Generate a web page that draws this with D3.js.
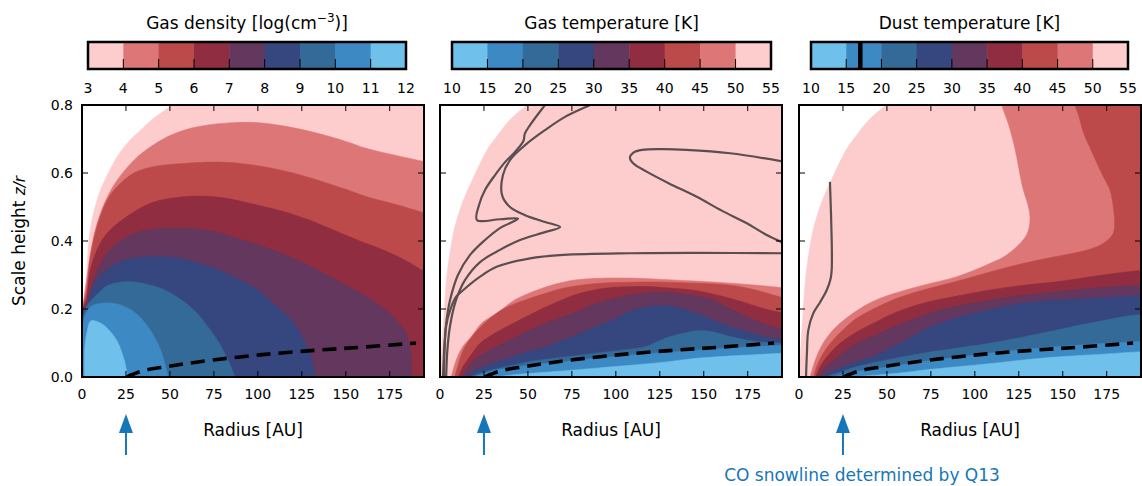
<!DOCTYPE html>
<html>
<head>
<meta charset="utf-8">
<script src="https://cdn.jsdelivr.net/npm/d3@7/dist/d3.min.js"></script>
<style>
  body { margin: 0; background: #fff; }
  text { font-family: "DejaVu Sans", sans-serif; }
</style>
</head>
<body>
<svg id="chart" width="1142" height="486"></svg>
<script>
// ---- data ----
const bandColors = ["#fdcdce", "#dd7676", "#bd4a4a", "#912d40", "#63375e", "#36467f", "#346a98", "#3d89c4", "#6fc0ea"];
const densLevels = [3, 4, 5, 6, 7, 8, 9, 10, 11, 12];
const tempLevels = [10, 15, 20, 25, 30, 35, 40, 45, 50, 55];
const xTicks = [0, 25, 50, 75, 100, 125, 150, 175];
const yTicks = [0, 0.2, 0.4, 0.6, 0.8];
const snowlineR = 25;
const dustLineLevel = 17;

// density: region n >= level, [r (AU), z/r]
const dens3 = [[0,0],[0.5,0.2],[2,0.256],[3,0.33],[3.9,0.403],[6,0.47],[10.5,0.55],[15,0.6],[20,0.648],[27,0.695],[33.3,0.726],[40,0.758],[48.5,0.79],[53,0.81],[60,0.86],[196,0.86]];
const dens4 = [[0,0],[0.5,0.2],[2.9,0.295],[5,0.37],[8.6,0.452],[14,0.525],[20,0.579],[30,0.64],[39,0.677],[48,0.705],[58,0.726],[70,0.74],[86,0.748],[100,0.748],[115,0.738],[134,0.717],[150,0.693],[162,0.672],[180,0.65],[196,0.632]];
const dens5 = [[0,0],[0.5,0.2],[2.5,0.25],[5,0.36],[9,0.45],[14.3,0.52],[20,0.56],[29.5,0.6],[40,0.618],[58,0.628],[77,0.632],[90,0.628],[105,0.617],[120,0.6],[134,0.579],[150,0.552],[162,0.53],[180,0.505],[196,0.48]];
const dens6 = [[0,0],[0.5,0.2],[2.5,0.23],[5,0.32],[10,0.39],[16,0.432],[25,0.47],[39,0.511],[50,0.525],[64,0.532],[75,0.53],[86,0.522],[100,0.505],[115,0.486],[130,0.46],[143,0.432],[158,0.4],[172,0.372],[185,0.34],[196,0.305]];
const dens7 = [[0,0],[0.5,0.2],[2.5,0.21],[5,0.26],[10,0.33],[16,0.375],[25,0.41],[33,0.427],[45,0.437],[55,0.438],[65,0.435],[77,0.425],[90,0.405],[105,0.38],[120,0.35],[134,0.315],[150,0.27],[162,0.236],[172,0.2],[180,0.16],[185,0.12],[187,0.07],[187.5,0]];
const dens8 = [[0,0],[0.5,0.19],[2,0.2],[5,0.25],[10,0.295],[20,0.335],[30,0.35],[40,0.354],[50,0.352],[60,0.344],[75,0.32],[86,0.295],[100,0.255],[110,0.21],[120,0.16],[126,0.11],[130,0.06],[132.5,0]];
const dens9 = [[0,0],[0.5,0.17],[3,0.21],[8,0.24],[15,0.27],[25,0.28],[35,0.275],[45,0.26],[55,0.232],[65,0.19],[72,0.145],[78,0.1],[83,0.05],[87,0]];
const dens10 = [[0,0],[0.5,0.15],[2.5,0.19],[6,0.21],[12,0.217],[20,0.215],[28,0.197],[35,0.165],[42,0.11],[46,0.06],[49,0]];
const dens11 = [[1.5,0],[1.5,0.08],[2.8,0.13],[5,0.165],[10,0.16],[15,0.14],[20,0.105],[24,0.05],[26,0]];

// outer edge of the model grid (temperature panels)
const gridEdge = [[0,0],[0.5,0.05],[1.2,0.1],[1.9,0.158],[2.8,0.23],[3.8,0.295],[5.5,0.36],[7.6,0.423],[10,0.47],[13.3,0.52],[18,0.575],[22.8,0.628],[27,0.67],[32.2,0.707],[37,0.74],[41.7,0.766],[46,0.785],[49.3,0.8],[52,0.82],[55,0.86],[196,0.86]];

// gas temperature: region T < level
const gasT50 = [[6.5,0],[8,0.03],[10,0.06],[13,0.09],[18,0.12],[24,0.16],[33,0.19],[42,0.225],[50,0.245],[61,0.266],[74,0.283],[85,0.289],[99,0.291],[115,0.29],[127,0.287],[145,0.282],[165,0.276],[180,0.27],[196,0.262]];
const gasT45 = [[8.5,0],[10,0.03],[13.3,0.08],[20,0.13],[32,0.187],[40,0.21],[51,0.231],[60,0.246],[70,0.261],[89,0.275],[110,0.279],[127,0.279],[145,0.276],[165,0.27],[180,0.255],[196,0.231]];
const gasT40 = [[10.5,0],[13,0.03],[17,0.06],[22.8,0.099],[30,0.125],[41.7,0.158],[50,0.18],[60.7,0.207],[70,0.228],[79.6,0.246],[90,0.258],[100,0.264],[117,0.266],[130,0.262],[146,0.254],[160,0.238],[174.5,0.217],[185,0.2],[196,0.187]];
const gasT35 = [[12.5,0],[16,0.03],[22,0.06],[32,0.089],[42,0.115],[51,0.138],[60,0.158],[70,0.177],[80,0.197],[89,0.217],[100,0.232],[108,0.241],[118,0.248],[127,0.25],[140,0.243],[155.5,0.226],[165,0.2],[174.5,0.177],[185,0.155],[196,0.138]];
const gasT30 = [[14.5,0],[20,0.02],[30,0.04],[41.7,0.06],[50,0.074],[60.7,0.089],[70,0.108],[79.6,0.128],[90,0.15],[98.6,0.168],[106,0.188],[112,0.2],[120,0.207],[127,0.21],[136,0.203],[146,0.187],[155,0.168],[165,0.148],[175,0.133],[184,0.119],[196,0.109]];
const gasT25 = [[17,0],[25,0.015],[35,0.027],[51,0.045],[70,0.058],[89,0.07],[105,0.08],[117.5,0.09],[124,0.105],[131,0.119],[140,0.13],[146,0.136],[155,0.133],[165,0.119],[175,0.108],[184,0.102],[196,0.099]];
const gasT20 = [[19,0],[25,0.01],[32,0.02],[50,0.034],[70,0.045],[89,0.055],[110,0.065],[130,0.073],[146,0.079],[170,0.087],[196,0.094]];
const gasT15 = [[32,0],[45,0.008],[60,0.014],[75,0.02],[89,0.026],[110,0.035],[130,0.045],[146,0.055],[170,0.063],[196,0.07]];

// gas temperature contour lines
const gasLineFlat = [[2.2,0],[2.6,0.08],[3.5,0.15],[6,0.2],[9,0.235],[13.3,0.256],[22.8,0.295],[32.2,0.324],[51.2,0.349],[70.2,0.359],[108,0.364],[146,0.365],[196,0.364]];
const gasLineLoop = [[196,0.633],[165,0.658],[140,0.668],[127,0.67],[115,0.668],[110,0.66],[108,0.645],[110,0.628],[117.5,0.604],[130,0.57],[146,0.53],[160,0.49],[174.5,0.452],[185,0.42],[196,0.393]];
const gasLineInner = [[1.7,0],[2.6,0.1],[3.8,0.17],[5.7,0.226],[10.2,0.3],[17.1,0.359],[25.6,0.403],[34.1,0.438],[44.4,0.466],[34.1,0.464],[21,0.462],[22.2,0.506],[25.6,0.55],[31.3,0.594],[37,0.632],[42.7,0.662],[47.5,0.695],[48.2,0.715],[51.2,0.741],[59.7,0.8],[62.6,0.82]];
const gasLineOuter = [[3.5,0],[4.2,0.08],[5.7,0.15],[9.1,0.226],[14.2,0.285],[22.8,0.338],[34.1,0.374],[45.5,0.403],[59.7,0.426],[68.3,0.441],[59.7,0.456],[48.4,0.476],[39.8,0.5],[35.3,0.535],[35.8,0.594],[39.8,0.638],[48.4,0.682],[59.7,0.726],[71.1,0.765],[85.3,0.8],[91,0.815]];

// dust temperature: region T < level
const dustT50 = [[6.4,0],[8,0.03],[10,0.06],[13.8,0.1],[18,0.13],[23.3,0.158],[32.8,0.195],[42,0.222],[51.8,0.242],[70.7,0.27],[89.7,0.295],[108.6,0.334],[117,0.355],[123.8,0.383],[128.5,0.41],[130.5,0.432],[131.4,0.471],[130,0.51],[127.6,0.55],[125.5,0.6],[123.8,0.648],[121.5,0.7],[119,0.746],[115.3,0.8],[113,0.86]];
const dustT45 = [[8.4,0],[10,0.03],[13.8,0.07],[18,0.1],[23.3,0.13],[32,0.17],[42.3,0.2],[55,0.23],[70.7,0.256],[85,0.275],[99.2,0.295],[113,0.315],[127.6,0.334],[142,0.35],[156,0.364],[165,0.375],[173,0.393],[178.5,0.42],[179.5,0.45],[179,0.49],[176.9,0.55],[173,0.59],[169.3,0.631],[165,0.68],[161.7,0.72],[159,0.77],[157,0.8],[156,0.86]];
const dustT40 = [[9.5,0],[12,0.03],[16,0.06],[23.3,0.099],[32,0.13],[42.3,0.158],[55,0.19],[70.7,0.217],[90,0.238],[108.6,0.256],[128,0.27],[146.6,0.28],[170,0.298],[196,0.315]];
const dustT35 = [[11,0],[14,0.025],[20,0.05],[26,0.075],[32.8,0.099],[42,0.12],[51.8,0.143],[65,0.17],[80,0.197],[95,0.213],[108.6,0.226],[128,0.24],[146.6,0.251],[170,0.262],[196,0.27]];
const dustT30 = [[13,0],[18,0.015],[25,0.03],[33,0.045],[42.3,0.06],[52,0.085],[61.3,0.109],[70,0.135],[80.2,0.158],[90,0.175],[99.2,0.187],[113,0.203],[127.6,0.217],[145,0.225],[165.5,0.231],[196,0.241]];
const dustT25 = [[15,0],[22,0.012],[32.8,0.03],[45,0.045],[58,0.058],[70.7,0.07],[90,0.085],[108.6,0.099],[128,0.118],[146.6,0.138],[160,0.153],[175,0.168],[185,0.178],[196,0.185]];
const dustT20 = [[19,0],[25,0.008],[35,0.018],[51.8,0.03],[70,0.045],[90,0.058],[108.6,0.07],[130,0.082],[160,0.094],[196,0.105]];
const dustT15 = [[30,0],[45,0.006],[60,0.013],[70.7,0.02],[90,0.03],[110,0.04],[127.6,0.05],[150,0.06],[175,0.068],[196,0.075]];
const dustLine = [[4,0],[4.5,0.07],[5.3,0.138],[8.1,0.187],[12,0.22],[15.8,0.256],[18,0.29],[18.6,0.315],[18.7,0.36],[18.6,0.403],[18.2,0.48],[17.6,0.574]];

// CO snow surface (dashed)
const snowSurface = [[25.5,0],[27,0.004],[29.5,0.009],[35,0.019],[45,0.028],[67,0.045],[101,0.065],[134,0.079],[160,0.088],[190,0.1]];

// ---- layout ----
const svg = d3.select("#chart");
const plotTop = 105, plotBottom = 377, plotW = 342;
const tempColors = bandColors.slice().reverse();

const panels = [
  { left: 82, title: "Gas density [log(cm", titleSup: "−3", titleEnd: ")]", bar: [88, 406], levels: densLevels, colors: bandColors,
    layers: [dens3, dens4, dens5, dens6, dens7, dens8, dens9, dens10, dens11].map((d, i) => ({ d, c: bandColors[i] })), lines: [] },
  { left: 440, title: "Gas temperature [K]", bar: [452, 771], levels: tempLevels, colors: tempColors,
    layers: [gridEdge, gasT50, gasT45, gasT40, gasT35, gasT30, gasT25, gasT20, gasT15].map((d, i) => ({ d, c: tempColors[8 - i] })),
    lines: [gasLineFlat, gasLineLoop, gasLineInner, gasLineOuter] },
  { left: 799, title: "Dust temperature [K]", bar: [811, 1128], levels: tempLevels, colors: tempColors,
    layers: [gridEdge, dustT50, dustT45, dustT40, dustT35, dustT30, dustT25, dustT20, dustT15].map((d, i) => ({ d, c: tempColors[8 - i] })),
    lines: [dustLine], barLine: dustLineLevel }
];

const lineColor = "#5b4e4f";
const arrowColor = "#1676b8";

panels.forEach((p, pi) => {
  const x = d3.scaleLinear().domain([0, 194.5]).range([p.left, p.left + plotW]);
  const y = d3.scaleLinear().domain([0, 0.8]).range([plotBottom, plotTop]);
  const g = svg.append("g");

  const clipId = "clip" + pi;
  svg.append("clipPath").attr("id", clipId).append("rect")
    .attr("x", p.left).attr("y", plotTop).attr("width", plotW).attr("height", plotBottom - plotTop);

  const curve = d3.line().x(d => x(d[0])).y(d => y(d[1])).curve(d3.curveCatmullRom.alpha(0.5));
  const plain = d3.line().x(d => x(d[0])).y(d => y(d[1]));

  const body = g.append("g").attr("clip-path", `url(#${clipId})`);
  p.layers.forEach(l => {
    const first = l.d[0], last = l.d[l.d.length - 1];
    const close = last[1] <= 0
      ? [[last[0], -0.1], [first[0], -0.1]]
      : [[205, 0.9], [205, -0.1], [first[0], -0.1]];
    const path = curve(l.d) + "L" + plain(close).slice(1) + "Z";
    body.append("path").attr("d", path).attr("fill", l.c).attr("stroke", l.c).attr("stroke-width", 0.6);
  });

  p.lines.forEach(l => {
    body.append("path").attr("d", curve(l)).attr("fill", "none")
      .attr("stroke", lineColor).attr("stroke-width", 2.2).attr("stroke-linejoin", "round");
  });

  body.append("path").attr("d", curve(snowSurface)).attr("fill", "none")
    .attr("stroke", "#000").attr("stroke-width", 3.6).attr("stroke-dasharray", "14,8");

  // ticks on all four sides, pointing inward
  const tl = 6;
  xTicks.forEach(t => {
    g.append("line").attr("x1", x(t)).attr("x2", x(t)).attr("y1", plotBottom).attr("y2", plotBottom - tl).attr("stroke", "#000");
    g.append("line").attr("x1", x(t)).attr("x2", x(t)).attr("y1", plotTop).attr("y2", plotTop + tl).attr("stroke", "#000");
    g.append("text").attr("x", x(t)).attr("y", 399).attr("text-anchor", "middle")
      .attr("font-size", 14).text(t);
  });
  yTicks.forEach(t => {
    g.append("line").attr("x1", p.left).attr("x2", p.left + tl).attr("y1", y(t)).attr("y2", y(t)).attr("stroke", "#000");
    g.append("line").attr("x1", p.left + plotW).attr("x2", p.left + plotW - tl).attr("y1", y(t)).attr("y2", y(t)).attr("stroke", "#000");
    if (pi === 0) {
      g.append("text").attr("x", p.left - 9).attr("y", y(t)).attr("dy", "0.36em").attr("text-anchor", "end")
        .attr("font-size", 14).text(t.toFixed(1));
    }
  });
  g.append("rect").attr("x", p.left).attr("y", plotTop).attr("width", plotW).attr("height", plotBottom - plotTop)
    .attr("fill", "none").attr("stroke", "#000").attr("stroke-width", 2);

  g.append("text").attr("x", p.left + plotW / 2).attr("y", 436).attr("text-anchor", "middle")
    .attr("font-size", 17).text("Radius [AU]");

  // snowline arrow
  const ax = x(snowlineR);
  g.append("line").attr("x1", ax).attr("x2", ax).attr("y1", 455).attr("y2", 428)
    .attr("stroke", arrowColor).attr("stroke-width", 2);
  g.append("path").attr("d", `M${ax},414L${ax - 7},433L${ax + 7},433Z`).attr("fill", arrowColor);

  // colorbar
  const cb = d3.scaleLinear().domain([p.levels[0], p.levels[p.levels.length - 1]]).range(p.bar);
  const cbTop = 42, cbBot = 69;
  p.colors.forEach((c, i) => {
    g.append("rect").attr("x", cb(p.levels[i])).attr("y", cbTop)
      .attr("width", cb(p.levels[i + 1]) - cb(p.levels[i]) + 0.5).attr("height", cbBot - cbTop).attr("fill", c);
  });
  if (p.barLine) {
    g.append("line").attr("x1", cb(p.barLine)).attr("x2", cb(p.barLine)).attr("y1", cbTop).attr("y2", cbBot)
      .attr("stroke", "#000").attr("stroke-width", 4.5);
  }
  p.levels.forEach(v => {
    g.append("line").attr("x1", cb(v)).attr("x2", cb(v)).attr("y1", cbBot).attr("y2", cbBot - 10).attr("stroke", "#000");
    g.append("text").attr("x", cb(v)).attr("y", 93).attr("text-anchor", "middle").attr("font-size", 14).text(v);
  });
  g.append("rect").attr("x", p.bar[0]).attr("y", cbTop).attr("width", p.bar[1] - p.bar[0]).attr("height", cbBot - cbTop)
    .attr("fill", "none").attr("stroke", "#000").attr("stroke-width", 2.5);

  const title = g.append("text").attr("x", (p.bar[0] + p.bar[1]) / 2).attr("y", 29)
    .attr("text-anchor", "middle").attr("font-size", 17);
  title.append("tspan").text(p.title);
  if (p.titleSup) {
    title.append("tspan").attr("font-size", 12).attr("dy", -7).text(p.titleSup);
    title.append("tspan").attr("dy", 7).text(p.titleEnd);
  }
});

// y axis label
const yl = svg.append("text").attr("transform", "translate(25,241) rotate(-90)")
  .attr("text-anchor", "middle").attr("font-size", 17);
yl.append("tspan").text("Scale height ");
yl.append("tspan").attr("font-style", "italic").attr("font-size", 15).text("z/r");

svg.append("text").attr("x", 862).attr("y", 481).attr("text-anchor", "middle")
  .attr("font-size", 17).attr("fill", arrowColor).text("CO snowline determined by Q13");
</script>
</body>
</html>
